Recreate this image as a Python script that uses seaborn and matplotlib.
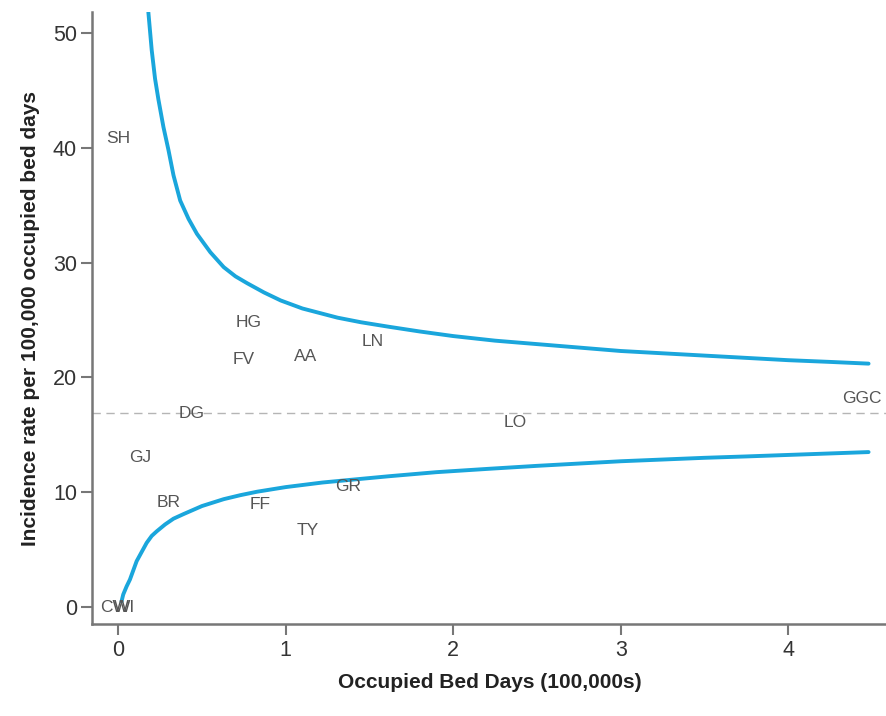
import matplotlib
matplotlib.use("Agg")
import matplotlib.pyplot as plt
import seaborn as sns
import pandas as pd

# Boards: occupied bed days (100,000s) and incidence rate per 100,000 bed days
boards = ["SH", "HG", "FV", "AA", "LN", "DG", "GJ", "BR", "FF", "TY", "GR", "LO", "GGC", "CW", "WI"]
bed_days = [0.00, 0.78, 0.75, 1.12, 1.52, 0.44, 0.13, 0.30, 0.85, 1.13, 1.37, 2.37, 4.44, -0.02, 0.04]
rates = [40.8, 24.8, 21.6, 21.8, 23.1, 16.9, 13.0, 9.1, 8.9, 6.7, 10.5, 16.1, 18.2, 0.0, 0.0]

# Overall rate (centre line)
mean_rate = 16.9

# Upper control limit
upper_x = [0.18, 0.20, 0.22, 0.24, 0.27, 0.30, 0.33, 0.37, 0.42, 0.47, 0.55, 0.63, 0.70, 0.77,
           0.87, 0.97, 1.10, 1.31, 1.45, 1.62, 1.80, 2.00, 2.25, 2.50, 2.75, 3.00, 3.25, 3.50,
           3.75, 4.00, 4.25, 4.48]
upper_y = [51.8, 48.5, 46.0, 44.2, 41.8, 39.8, 37.6, 35.4, 33.8, 32.5, 30.9, 29.6, 28.8, 28.2,
           27.4, 26.7, 26.0, 25.2, 24.8, 24.4, 24.0, 23.6, 23.2, 22.9, 22.6, 22.3, 22.1, 21.9,
           21.7, 21.5, 21.35, 21.2]

# Lower control limit
lower_x = [0.02, 0.03, 0.05, 0.07, 0.09, 0.11, 0.14, 0.17, 0.20, 0.23, 0.28, 0.33, 0.39, 0.50,
           0.63, 0.73, 0.83, 1.00, 1.22, 1.40, 1.62, 1.90, 2.22, 2.50, 2.75, 3.00, 3.25, 3.50,
           3.75, 4.00, 4.25, 4.48]
lower_y = [0.5, 1.1, 1.8, 2.4, 3.2, 4.0, 4.8, 5.6, 6.2, 6.6, 7.2, 7.7, 8.1, 8.8,
           9.4, 9.75, 10.05, 10.45, 10.85, 11.1, 11.4, 11.75, 12.05, 12.3, 12.5, 12.7, 12.85, 13.0,
           13.12, 13.25, 13.38, 13.5]

sns.set_style("white")
plt.rcParams["font.family"] = ["Liberation Sans", "DejaVu Sans"]

fig = plt.figure(figsize=(8.87, 7.16), dpi=100)
ax = fig.add_axes([0.104, 0.128, 0.896, 0.855])

limit_color = "#1aa6dc"
upper = pd.DataFrame({"x": upper_x, "y": upper_y})
lower = pd.DataFrame({"x": lower_x, "y": lower_y})
sns.lineplot(data=upper, x="x", y="y", ax=ax, color=limit_color, lw=2.8, estimator=None, sort=False)
sns.lineplot(data=lower, x="x", y="y", ax=ax, color=limit_color, lw=2.8, estimator=None, sort=False)

ax.axhline(mean_rate, color="#b5b5b5", lw=1.0, ls=(0, (6, 4)))

for name, x, y in zip(boards, bed_days, rates):
    ax.text(x, y, name, ha="center", va="center", fontsize=12.5, color="#555555")

ax.set_xlim(-0.155, 4.59)
ax.set_ylim(-1.5, 51.8)
ax.set_xticks([0, 1, 2, 3, 4])
ax.set_yticks([0, 10, 20, 30, 40, 50])
ax.tick_params(axis="both", direction="out", length=8, width=1.5, color="#777777",
               labelsize=15.5, labelcolor="#333333", left=True, bottom=True, pad=3)

for side in ["top", "right"]:
    ax.spines[side].set_visible(False)
for side in ["left", "bottom"]:
    ax.spines[side].set_color("#777777")
    ax.spines[side].set_linewidth(1.8)

ax.set_xlabel("Occupied Bed Days (100,000s)", fontsize=15, fontweight="bold", color="#222222", labelpad=9)
ax.set_ylabel("Incidence rate per 100,000 occupied bed days", fontsize=15, fontweight="bold",
              color="#222222", labelpad=9)

fig.savefig("out.png", dpi=100)
